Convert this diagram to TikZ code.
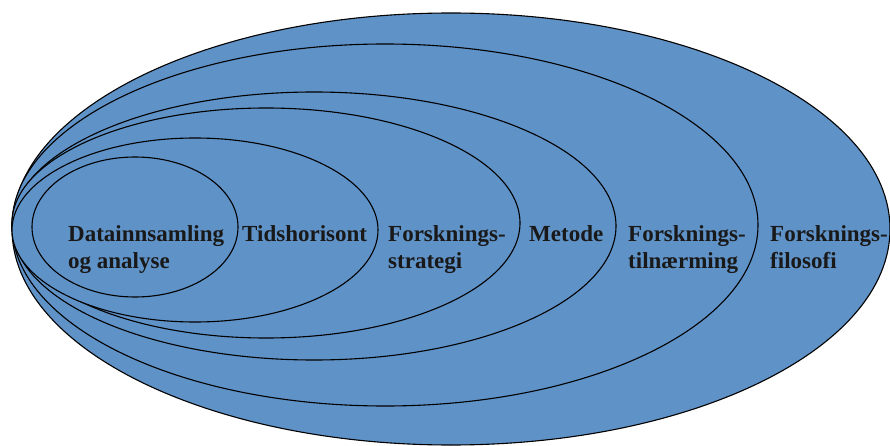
\documentclass[tikz,border=0pt]{standalone}
\usepackage{fontspec}
\setmainfont{Liberation Serif}
\definecolor{ringblue}{RGB}{95,146,199}
\begin{document}
\begin{tikzpicture}[x=1pt,y=-1pt,
  ring/.style={draw=black,line width=1.1pt,fill=ringblue},
  lbl/.style={anchor=base west,inner sep=0pt,align=left,font=\fontsize{23}{27.5}\selectfont\bfseries,text=black!90}]
\useasboundingbox (0,0) rectangle (890,446);
\draw[ring] (451,229) ellipse [x radius=439,y radius=216];
\draw[ring] (385,225) ellipse [x radius=373,y radius=181];
\draw[ring] (314,226) ellipse [x radius=302,y radius=134];
\draw[ring] (266,223) ellipse [x radius=254,y radius=115];
\draw[ring] (195,230) ellipse [x radius=183,y radius=92];
\draw[ring] (135,227) ellipse [x radius=103,y radius=70];
\node[lbl] (data) at (68,268.5) {Datainnsamling\\og analyse};
\node[lbl] (tid) at (242,241) {Tidshorisont};
\node[lbl] (strat) at (388,268.5) {Forsknings-\\strategi};
\node[lbl] (met) at (529,241) {Metode};
\node[lbl] (tiln) at (628,268.5) {Forsknings-\\tilnærming};
\node[lbl] (filo) at (770,268.5) {Forsknings-\\filosofi};
\end{tikzpicture}
\end{document}
